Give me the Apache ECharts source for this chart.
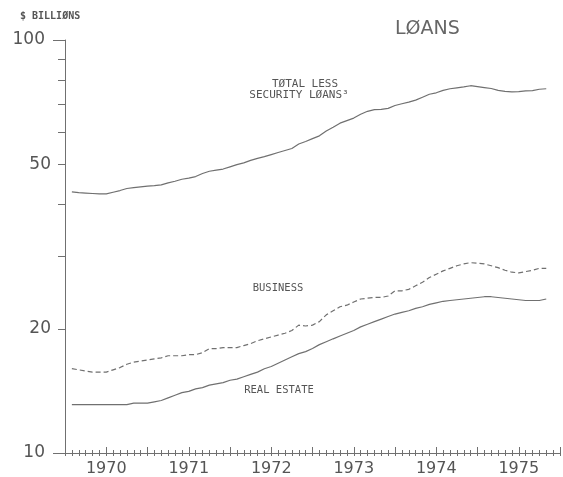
<!DOCTYPE html>
<html>
<head>
<meta charset="utf-8">
<script src="https://cdn.jsdelivr.net/npm/echarts@6/dist/echarts.min.js"></script>
<style>
  html, body { margin: 0; padding: 0; background: #ffffff; }
  #chart { width: 563px; height: 477px; }
</style>
</head>
<body>
<div id="chart"></div>
<script>
// Month-end levels, Jan 1970 through Oct 1975, $ billions (ratio scale)
const totalLessSecurity = [
  42.9, 42.7, 42.6, 42.5, 42.4, 42.4, 42.8, 43.2, 43.7, 43.9, 44.1, 44.3,
  44.4, 44.6, 45.1, 45.5, 46.0, 46.3, 46.7, 47.5, 48.1, 48.4, 48.7, 49.3,
  49.9, 50.4, 51.1, 51.7, 52.2, 52.8, 53.4, 54.0, 54.6, 56.0, 56.8, 57.7,
  58.6, 60.2, 61.5, 62.9, 63.8, 64.7, 66.1, 67.2, 67.8, 67.9, 68.3, 69.4,
  70.1, 70.7, 71.5, 72.7, 73.9, 74.5, 75.5, 76.2, 76.6, 77.0, 77.5, 77.1,
  76.7, 76.3, 75.5, 75.1, 74.9, 75.0, 75.3, 75.4, 76.0, 76.2
];
const business = [
  16.0, 15.9, 15.8, 15.7, 15.7, 15.7, 15.9, 16.1, 16.4, 16.6, 16.7, 16.8,
  16.9, 17.0, 17.2, 17.2, 17.2, 17.3, 17.3, 17.5, 17.9, 17.9, 18.0, 18.0,
  18.0, 18.2, 18.4, 18.7, 18.9, 19.1, 19.3, 19.5, 19.8, 20.4, 20.3, 20.4,
  20.8, 21.6, 22.1, 22.6, 22.8, 23.2, 23.6, 23.7, 23.8, 23.8, 24.0, 24.7,
  24.7, 24.9, 25.4, 25.9, 26.6, 27.1, 27.6, 28.0, 28.4, 28.7, 28.9, 28.8,
  28.7, 28.4, 28.1, 27.7, 27.4, 27.3, 27.5, 27.7, 28.0, 28.0
];
const realEstate = [
  13.1, 13.1, 13.1, 13.1, 13.1, 13.1, 13.1, 13.1, 13.1, 13.2, 13.2, 13.2,
  13.3, 13.4, 13.6, 13.8, 14.0, 14.1, 14.3, 14.4, 14.6, 14.7, 14.8, 15.0,
  15.1, 15.3, 15.5, 15.7, 16.0, 16.2, 16.5, 16.8, 17.1, 17.4, 17.6, 17.9,
  18.3, 18.6, 18.9, 19.2, 19.5, 19.8, 20.2, 20.5, 20.8, 21.1, 21.4, 21.7,
  21.9, 22.1, 22.4, 22.6, 22.9, 23.1, 23.3, 23.4, 23.5, 23.6, 23.7, 23.8,
  23.9, 23.9, 23.8, 23.7, 23.6, 23.5, 23.4, 23.4, 23.4, 23.6
];
const yearLabels = ['1970', '1971', '1972', '1973', '1974', '1975'];
const yDecadeTicks = [10, 100];
const yInnerTicks = [20, 30, 40, 50, 60, 70, 80, 90];
const yInnerLabels = [20, 50];

// x position = months elapsed since the start of 1970 (month-end observations)
const monthEnd = (i) => i + 1;
const pairs = (arr) => arr.map((v, i) => [monthEnd(i), v]);

const INK = '#707070';
const TEXT = '#555555';
const PLOT_FONT = '"DejaVu Sans Mono", monospace';
const NUM_FONT = '"DejaVu Sans", sans-serif';
const DECADE_TICK = 12;
const INNER_TICK = 7;

const chart = echarts.init(document.getElementById('chart'), null, { renderer: 'canvas' });

const xBase = { type: 'value', min: 0, max: 72, gridIndex: 0, position: 'bottom',
  splitLine: { show: false }, axisLabel: { show: false } };

// log y axes sharing one scale; the extra ones only carry labels
const yBase = { type: 'log', logBase: 10, min: 10, max: 100, position: 'left',
  splitLine: { show: false }, axisLine: { show: false },
  axisTick: { show: false }, axisLabel: { show: false } };
const labelAxis = (values, margin) => Object.assign({}, yBase, {
  axisLabel: { show: true, customValues: values, margin: margin, color: TEXT,
    fontFamily: NUM_FONT, fontSize: 17 }
});

// y tick marks at the left edge of the plot, placed through the axis scale
const yTickRows = yDecadeTicks.map((v) => [0, v, DECADE_TICK])
  .concat(yInnerTicks.map((v) => [0, v, INNER_TICK]));

chart.setOption({
  animation: false,
  backgroundColor: '#ffffff',
  grid: { left: 65, right: 3, top: 40, bottom: 23, containLabel: false },
  xAxis: [
    // monthly ticks below the baseline, with the baseline itself
    Object.assign({}, xBase, {
      interval: 1,
      axisLine: { show: true, lineStyle: { color: INK, width: 1 } },
      axisTick: { show: true, inside: false, length: 3, lineStyle: { color: INK, width: 1 } }
    }),
    // monthly ticks above the baseline
    Object.assign({}, xBase, {
      interval: 1,
      axisLine: { show: false },
      axisTick: { show: true, inside: true, length: 3, lineStyle: { color: INK, width: 1 } }
    }),
    // year and half-year ticks, year labels centred in each year
    Object.assign({}, xBase, {
      interval: 6,
      axisLine: { show: false },
      axisTick: { show: true, inside: true, length: 6, lineStyle: { color: INK, width: 1 } },
      axisLabel: {
        show: true, margin: 8, color: TEXT, fontFamily: NUM_FONT, fontSize: 16,
        formatter: (v) => (v % 12 === 6 ? yearLabels[(v - 6) / 12] : '')
      }
    })
  ],
  yAxis: [
    Object.assign({}, yBase, { axisLine: { show: true, lineStyle: { color: INK, width: 1 } } }),
    labelAxis(yDecadeTicks, 20),
    labelAxis(yInnerLabels, 14)
  ],
  series: [
    { name: 'Total less security loans', type: 'line', xAxisIndex: 0, yAxisIndex: 0,
      data: pairs(totalLessSecurity), showSymbol: false, symbol: 'none',
      lineStyle: { color: INK, width: 1.2 } },
    { name: 'Business', type: 'line', xAxisIndex: 0, yAxisIndex: 0,
      data: pairs(business), showSymbol: false, symbol: 'none',
      lineStyle: { color: INK, width: 1.2, type: [5, 3] } },
    { name: 'Real estate', type: 'line', xAxisIndex: 0, yAxisIndex: 0,
      data: pairs(realEstate), showSymbol: false, symbol: 'none',
      lineStyle: { color: INK, width: 1.2 } },
    { name: 'y ticks', type: 'custom', xAxisIndex: 0, yAxisIndex: 0,
      silent: true, clip: false, data: yTickRows,
      encode: { x: 0, y: 1 },
      renderItem: (params, api) => {
        const p = api.coord([api.value(0), api.value(1)]);
        const y = Math.round(p[1]) + 0.5;
        const len = api.value(2);
        return { type: 'line',
          shape: { x1: p[0] - len, y1: y, x2: p[0], y2: y },
          style: { stroke: INK, lineWidth: 1 } };
      } }
  ],
  graphic: [
    { type: 'text', x: 20, y: 16, style: { text: '$ BILLIØNS', fill: TEXT,
      font: 'bold 10px ' + PLOT_FONT, align: 'left', verticalAlign: 'middle' } },
    { type: 'text', x: 395, y: 29, style: { text: 'LØANS', fill: '#666666',
      font: '19px ' + NUM_FONT, align: 'left', verticalAlign: 'middle' } },
    { type: 'text', x: 305, y: 84, style: { text: 'TØTAL LESS', fill: TEXT,
      font: '11px ' + PLOT_FONT, align: 'center', verticalAlign: 'middle' } },
    { type: 'text', x: 299, y: 95, style: { text: 'SECURITY LØANS³', fill: TEXT,
      font: '11px ' + PLOT_FONT, align: 'center', verticalAlign: 'middle' } },
    { type: 'text', x: 278, y: 288, style: { text: 'BUSINESS', fill: TEXT,
      font: '10.5px ' + PLOT_FONT, align: 'center', verticalAlign: 'middle' } },
    { type: 'text', x: 279, y: 390, style: { text: 'REAL ESTATE', fill: TEXT,
      font: '10.5px ' + PLOT_FONT, align: 'center', verticalAlign: 'middle' } }
  ]
});
</script>
</body>
</html>
